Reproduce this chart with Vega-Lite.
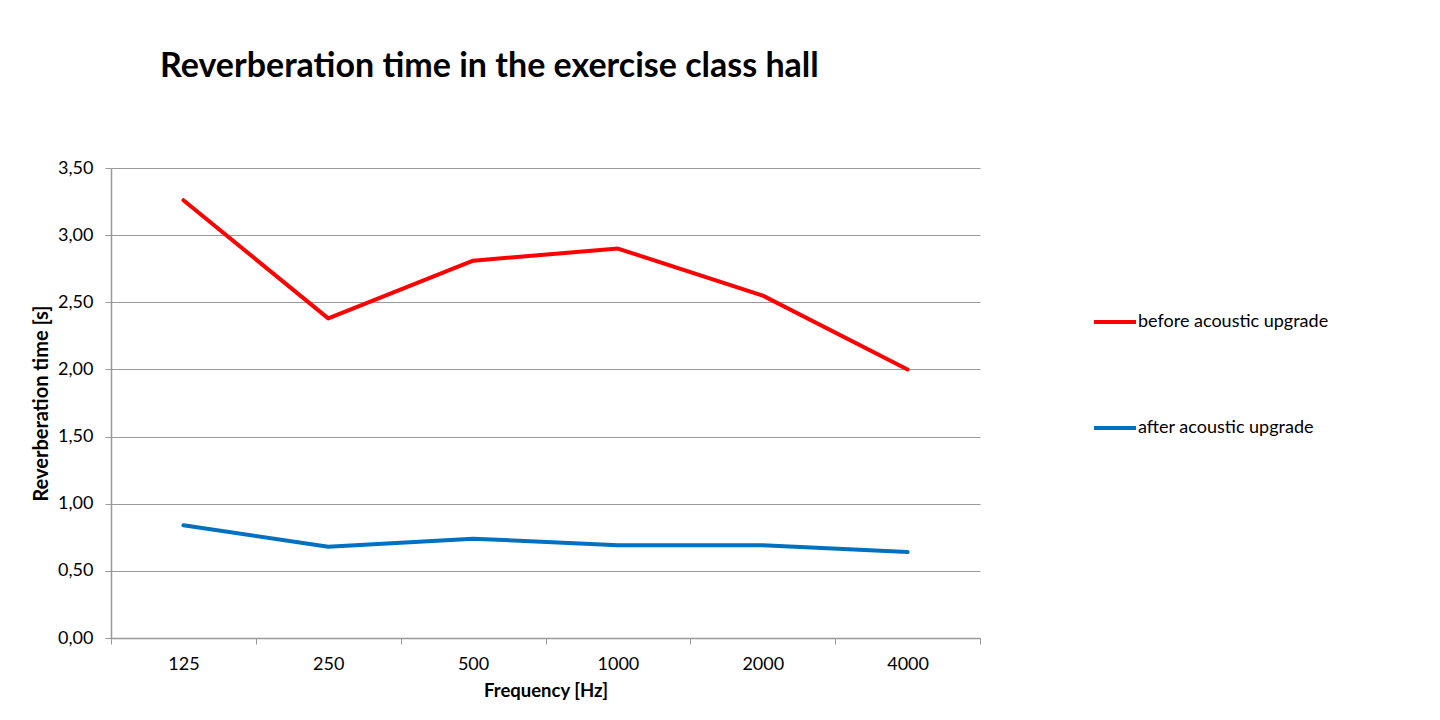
{
  "$schema": "https://vega.github.io/schema/vega-lite/v6.json",
  "width": 869,
  "height": 470,
  "autosize": {"type": "none"},
  "padding": {"left": 111, "top": 168, "right": 460, "bottom": 82},
  "background": "white",
  "title": {
    "text": "Reverberation time in the exercise class hall",
    "anchor": "start",
    "frame": "group",
    "dx": 49,
    "offset": 75,
    "font": "Lato",
    "fontSize": 34,
    "fontWeight": "bold",
    "color": "black"
  },
  "data": {
    "values": [
      {"freq": "125", "series": "before acoustic upgrade", "t": 3.26},
      {"freq": "250", "series": "before acoustic upgrade", "t": 2.38},
      {"freq": "500", "series": "before acoustic upgrade", "t": 2.81},
      {"freq": "1000", "series": "before acoustic upgrade", "t": 2.90},
      {"freq": "2000", "series": "before acoustic upgrade", "t": 2.55},
      {"freq": "4000", "series": "before acoustic upgrade", "t": 2.00},
      {"freq": "125", "series": "after acoustic upgrade", "t": 0.84},
      {"freq": "250", "series": "after acoustic upgrade", "t": 0.68},
      {"freq": "500", "series": "after acoustic upgrade", "t": 0.74},
      {"freq": "1000", "series": "after acoustic upgrade", "t": 0.69},
      {"freq": "2000", "series": "after acoustic upgrade", "t": 0.69},
      {"freq": "4000", "series": "after acoustic upgrade", "t": 0.64}
    ]
  },
  "mark": {"type": "line", "strokeWidth": 4, "strokeCap": "round", "strokeJoin": "round"},
  "encoding": {
    "x": {
      "field": "freq",
      "type": "ordinal",
      "sort": ["125", "250", "500", "1000", "2000", "4000"],
      "scale": {"paddingInner": 0, "paddingOuter": 0},
      "axis": {
        "title": "Frequency [Hz]",
        "titleFont": "Lato",
        "titleFontSize": 18.5,
        "titleFontWeight": "bold",
        "titleColor": "black",
        "titlePadding": 8,
        "labelFont": "Lato",
        "labelFontSize": 18,
        "labelColor": "black",
        "labelAngle": 0,
        "labelPadding": 20,
        "labelBaseline": "middle",
        "tickBand": "extent",
        "tickSize": 6,
        "tickColor": "#999999",
        "domainColor": "#999999",
        "domainWidth": 1.5,
        "grid": false
      }
    },
    "y": {
      "field": "t",
      "type": "quantitative",
      "scale": {"domain": [0, 3.5], "nice": false},
      "axis": {
        "title": "Reverberation time [s]",
        "titleFont": "Lato",
        "titleFontSize": 20,
        "titleFontWeight": "bold",
        "titleColor": "black",
        "titlePadding": 6,
        "values": [0, 0.5, 1, 1.5, 2, 2.5, 3, 3.5],
        "labelExpr": "replace(format(datum.value, '.2f'), '.', ',')",
        "labelFont": "Lato",
        "labelFontSize": 18,
        "labelColor": "black",
        "labelPadding": 12,
        "tickSize": 6,
        "tickColor": "#999999",
        "domainColor": "#999999",
        "domainWidth": 1.5,
        "grid": true,
        "gridColor": "#999999",
        "gridWidth": 1.2
      }
    },
    "color": {
      "field": "series",
      "type": "nominal",
      "sort": ["before acoustic upgrade", "after acoustic upgrade"],
      "scale": {"domain": ["before acoustic upgrade", "after acoustic upgrade"], "range": ["#ff0000", "#0070c0"]},
      "legend": {
        "title": null,
        "orient": "none",
        "legendX": 981,
        "legendY": 131,
        "symbolType": "stroke",
        "symbolSize": 1764,
        "symbolStrokeWidth": 4,
        "labelFont": "Lato",
        "labelFontSize": 18,
        "labelColor": "black",
        "labelOffset": 0,
        "labelLimit": 400,
        "rowPadding": 74,
        "padding": 0
      }
    }
  },
  "config": {"view": {"stroke": null}}
}
